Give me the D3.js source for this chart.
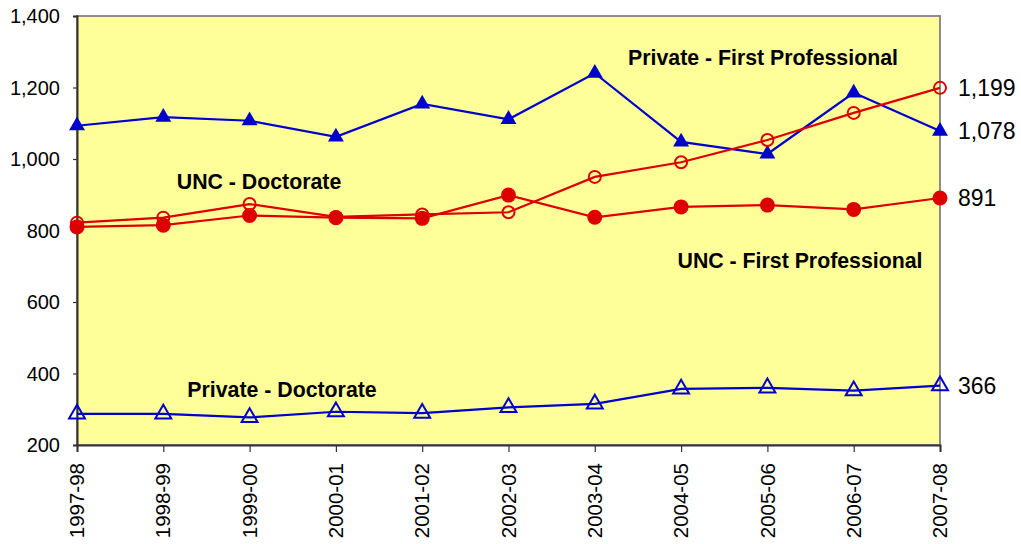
<!DOCTYPE html>
<html>
<head>
<meta charset="utf-8">
<script src="https://cdnjs.cloudflare.com/ajax/libs/d3/7.8.5/d3.min.js"></script>
<style>
  html, body { margin: 0; padding: 0; background: #fff; }
  svg { display: block; font-family: Arial, "Liberation Sans", sans-serif; }
</style>
</head>
<body>
<svg id="chart" width="1021" height="544"></svg>
<script>
const years = ["1997-98", "1998-99", "1999-00", "2000-01", "2001-02", "2002-03",
               "2003-04", "2004-05", "2005-06", "2006-07", "2007-08"];

const privateFirstProf = [1093, 1117, 1107, 1062, 1154, 1111, 1240, 1048, 1014, 1185, 1078];
const uncDoctorate     = [822, 836, 874, 838, 845, 851, 950, 991, 1053, 1129, 1199];
const uncFirstProf     = [810, 815, 842, 836, 834, 899, 837, 866, 871, 859, 891];
const privateDoctorate = [287, 287, 277, 293, 289, 305, 315, 357, 360, 352, 366];

const yTicks = [200, 400, 600, 800, 1000, 1200, 1400];

const series = [
  { name: "Private - First Professional", values: privateFirstProf, color: "#0000cc", marker: "triangle", filled: true },
  { name: "UNC - Doctorate", values: uncDoctorate, color: "#dd0000", marker: "circle", filled: false },
  { name: "UNC - First Professional", values: uncFirstProf, color: "#dd0000", marker: "circle", filled: true },
  { name: "Private - Doctorate", values: privateDoctorate, color: "#0000cc", marker: "triangle", filled: false }
];

// series name labels placed inside the plot
const seriesLabels = [
  { text: "Private - First Professional", x: 763, y: 58 },
  { text: "UNC - Doctorate", x: 259, y: 182 },
  { text: "UNC - First Professional", x: 800, y: 261 },
  { text: "Private - Doctorate", x: 282, y: 390 }
];

const svg = d3.select("#chart");
const plot = { left: 77, right: 940, top: 16, bottom: 445 };

const x = d3.scalePoint().domain(years).range([plot.left, plot.right]);
const y = d3.scaleLinear().domain([200, 1400]).range([plot.bottom, plot.top]);

// plot area
svg.append("rect")
  .attr("x", plot.left).attr("y", plot.top)
  .attr("width", plot.right - plot.left).attr("height", plot.bottom - plot.top)
  .attr("fill", "#ffff99")
  .attr("stroke", "#8c8c8c")
  .attr("stroke-width", 2);

// axes
const xAxis = svg.append("g")
  .attr("transform", `translate(0,${plot.bottom})`)
  .call(d3.axisBottom(x).tickSize(7).tickFormat(""));
xAxis.select(".domain").attr("stroke", "#333").attr("stroke-width", 2);
xAxis.selectAll(".tick line").attr("stroke", "#333").attr("stroke-width", 1.2);

const yAxis = svg.append("g")
  .attr("transform", `translate(${plot.left},0)`)
  .call(d3.axisLeft(y).tickValues(yTicks).tickSize(4).tickFormat(""));
yAxis.select(".domain").attr("stroke", "#333").attr("stroke-width", 2);
yAxis.selectAll(".tick line").attr("stroke", "#333").attr("stroke-width", 1.2);

// y tick labels
svg.append("g").selectAll("text")
  .data(yTicks)
  .join("text")
  .attr("x", 60)
  .attr("y", d => y(d))
  .attr("dy", "0.35em")
  .attr("text-anchor", "end")
  .attr("font-size", 20)
  .attr("fill", "#000")
  .text(d => d3.format(",")(d));

// x tick labels, rotated
svg.append("g").selectAll("text")
  .data(years)
  .join("text")
  .attr("transform", d => `translate(${x(d)},${plot.bottom + 18}) rotate(-90)`)
  .attr("dy", "0.35em")
  .attr("text-anchor", "end")
  .attr("font-size", 20.5)
  .attr("fill", "#000")
  .text(d => d);

const line = d3.line()
  .x((d, i) => x(years[i]))
  .y(d => y(d));

const triangle = d3.symbol().type(d3.symbolTriangle).size(110);

series.forEach(s => {
  const g = svg.append("g");
  g.append("path")
    .datum(s.values)
    .attr("d", line)
    .attr("fill", "none")
    .attr("stroke", s.color)
    .attr("stroke-width", 2.2);

  const pts = g.selectAll(".pt")
    .data(s.values)
    .join(s.marker === "circle" ? "circle" : "path")
    .attr("class", "pt");

  if (s.marker === "circle") {
    pts.attr("cx", (d, i) => x(years[i]))
      .attr("cy", d => y(d))
      .attr("r", s.filled ? 7.5 : 6)
      .attr("fill", s.filled ? s.color : "none")
      .attr("stroke", s.color)
      .attr("stroke-width", s.filled ? 0 : 2);
  } else {
    pts.attr("d", triangle)
      .attr("transform", (d, i) => `translate(${x(years[i])},${y(d)})`)
      .attr("fill", s.filled ? s.color : "none")
      .attr("stroke", s.color)
      .attr("stroke-width", s.filled ? 0 : 2);
  }

  // end value label
  const last = s.values[s.values.length - 1];
  svg.append("text")
    .attr("x", 958)
    .attr("y", y(last))
    .attr("dy", "0.35em")
    .attr("font-size", 23)
    .attr("fill", "#000")
    .text(d3.format(",")(last));
});

// in-plot series labels
svg.append("g").selectAll("text")
  .data(seriesLabels)
  .join("text")
  .attr("x", d => d.x)
  .attr("y", d => d.y)
  .attr("dy", "0.35em")
  .attr("text-anchor", "middle")
  .attr("font-size", 21.3)
  .attr("font-weight", "bold")
  .attr("fill", "#000")
  .text(d => d.text);
</script>
</body>
</html>
